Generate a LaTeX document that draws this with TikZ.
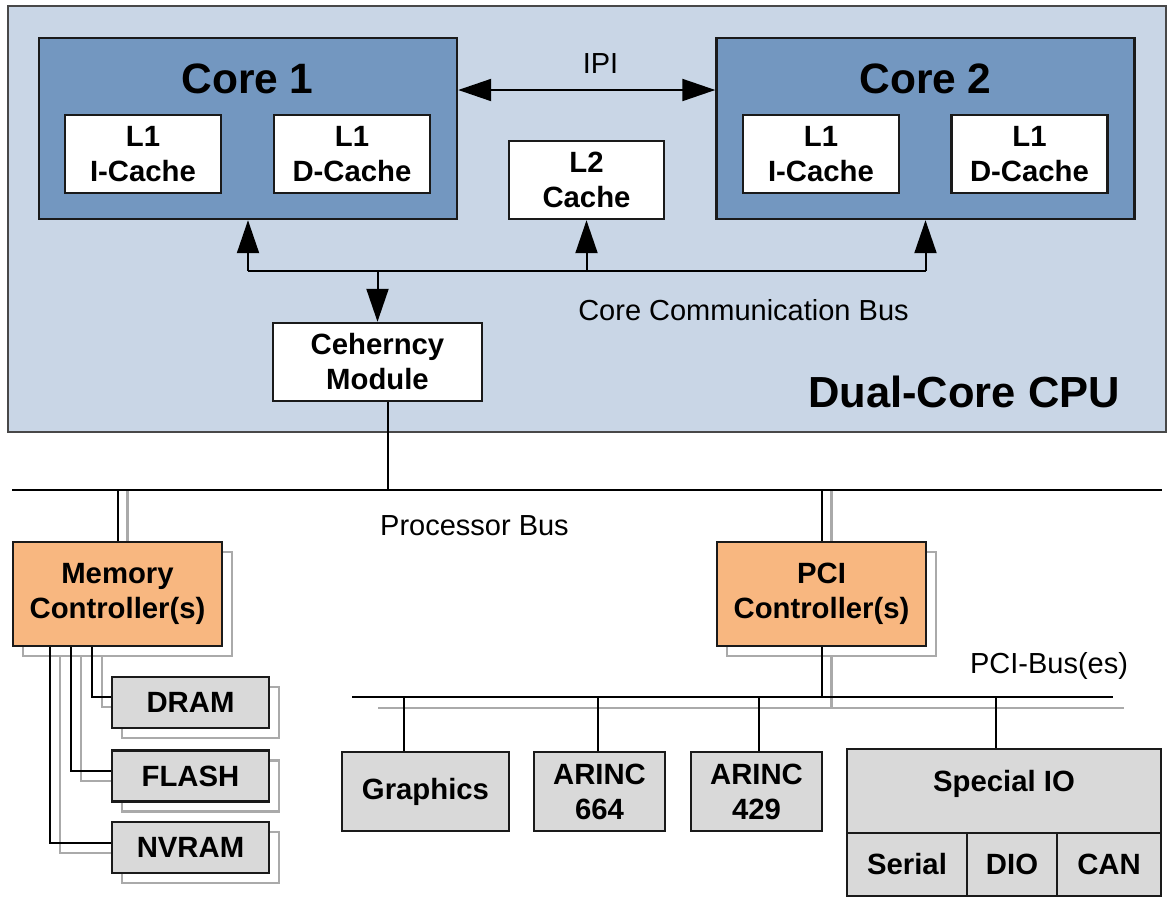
\documentclass[tikz,border=0pt]{standalone}
\usepackage{fontspec}
\setmainfont{Liberation Sans}
\usetikzlibrary{arrows.meta,shadows,backgrounds}
\definecolor{cpufill}{RGB}{201,214,230}
\definecolor{corefill}{RGB}{115,151,192}
\definecolor{ctrlfill}{RGB}{248,183,128}
\definecolor{devfill}{RGB}{217,217,217}
\definecolor{shgray}{RGB}{170,170,170}
\definecolor{edge}{RGB}{26,26,26}
\begin{document}
\begin{tikzpicture}[x=1pt,y=-1pt,
  box/.style={draw=edge, line width=2.4pt, inner sep=0pt, align=center,
    font=\bfseries\fontsize{29.3}{35}\selectfont},
  cpubox/.style={box, draw=edge!80, line width=2pt, fill=cpufill},
  corebox/.style={box, fill=corefill, minimum width=418pt, minimum height=181pt},
  cache/.style={box, fill=white, minimum width=156pt, minimum height=78pt},
  shadowed/.style={general shadow={shadow xshift=10pt, shadow yshift=-10pt, draw=shgray, line width=2.4pt}},
  ctrl/.style={box, fill=ctrlfill, minimum width=209pt, minimum height=104pt, shadowed},
  mem/.style={box, fill=devfill, minimum width=157pt, minimum height=51pt, shadowed},
  dev/.style={box, fill=devfill, minimum height=79pt},
  lbl/.style={inner sep=0pt, font=\fontsize{29}{34}\selectfont, text height=20.5pt, text depth=0pt},
  title/.style={inner sep=0pt, font=\bfseries\fontsize{42.5}{50}\selectfont, text height=30pt, text depth=0pt},
  link/.style={draw=black, line width=2pt},
  shline/.style={draw=shgray, line width=2.4pt},
  arr/.style={link, -{Triangle[length=33pt,width=22pt]}},
  darr/.style={link, {Triangle[length=33pt,width=22pt]}-{Triangle[length=33pt,width=22pt]}}
]
\useasboundingbox (0,0) rectangle (1176,906);

% CPU
\node[cpubox, minimum width=1158pt, minimum height=426pt] (cpu) at (587,219) {};
\node[corebox] (core1) at (248,128.5) {};
\node[corebox] (core2) at (925.5,128.5) {};
\node[title] (core1t) at (247.5,78) {Core 1};
\node[title] (core2t) at (925.5,78) {Core 2};
\node[cache] (l1i1) at (143,154) {L1\\I-Cache};
\node[cache] (l1d1) at (352,154) {L1\\D-Cache};
\node[cache] (l1i2) at (821,154) {L1\\I-Cache};
\node[cache] (l1d2) at (1029.5,154) {L1\\D-Cache};
\node[cache, minimum width=155pt] (l2) at (586.5,180) {L2\\Cache};
\node[cache, minimum width=209pt] (coh) at (377.5,362) {Ceherncy\\Module};
\node[lbl] (ipit) at (600.5,63) {IPI};
\node[lbl] (ccbt) at (743.5,310) {Core Communication Bus};
\node[title, font=\bfseries\fontsize{43.5}{50}\selectfont, text height=31pt] (cput) at (964,392) {Dual-Core CPU};

\coordinate (ccb) at (0,271);
\draw[darr] ([yshift=38.5pt]core1.east) -- ([yshift=38.5pt]core2.west);
\draw[link] (core1.south |- ccb) -- (core2.south |- ccb);
\draw[arr] (core1.south |- ccb) -- (core1.south);
\draw[arr] (l2.south |- ccb) -- (l2.south);
\draw[arr] (core2.south |- ccb) -- (core2.south);
\draw[arr] (coh.north |- ccb) -- (coh.north);

% processor bus
\coordinate (pbL) at (12,490);
\coordinate (pbR) at (1162,490);
\coordinate (cd) at ([xshift=10.5pt]coh.south);
\draw[link] (cd) -- (cd |- pbL);
\draw[link] (pbL) -- (pbR);
\node[lbl] (pbt) at (474.5,525) {Processor Bus};

% controllers
\node[ctrl] (mc) at (117.5,594) {Memory\\Controller(s)};
\node[ctrl] (pci) at (821.5,594) {PCI\\Controller(s)};
\node[mem] (dram) at (190.5,702.5) {DRAM};
\node[mem] (flash) at (190.5,776) {FLASH};
\node[mem] (nvram) at (190.5,847.5) {NVRAM};

\draw[link] (mc.north |- pbL) -- (mc.north);
\draw[link] (pci.north |- pbL) -- (pci.north);

\coordinate (m1) at ([xshift=-25.5pt]mc.south);
\coordinate (m2) at ([xshift=-46.5pt]mc.south);
\coordinate (m3) at ([xshift=-67.5pt]mc.south);
\draw[link] (m1) |- ([yshift=5.5pt]dram.west);
\draw[link] (m2) |- ([yshift=5pt]flash.west);
\draw[link] (m3) |- ([yshift=4.5pt]nvram.west);

% PCI bus
\coordinate (pciL) at (352,697);
\coordinate (pciR) at (1113,697);
\coordinate (pcigL) at (378,708);
\coordinate (pcigR) at (1124,708);
\draw[link] (pci.south) -- (pci.south |- pciL);
\draw[link] (pciL) -- (pciR);
\node[lbl] (pcibt) at (1049,663) {PCI-Bus(es)};

% devices
\node[dev, minimum width=167pt] (gfx) at (425.5,791.5) {Graphics};
\node[dev, minimum width=131pt] (a664) at (599.5,791.5) {ARINC\\664};
\node[dev, minimum width=131pt] (a429) at (756.5,791.5) {ARINC\\429};
\node[dev, minimum width=314pt, minimum height=84pt, text height=20.5pt, text depth=20pt] (spio) at (1004,791) {Special IO};
\node[dev, minimum width=120pt, minimum height=63pt] (serial) at (907,864.5) {Serial};
\node[dev, minimum width=90pt, minimum height=63pt] (dio) at (1012,864.5) {DIO};
\node[dev, minimum width=104pt, minimum height=63pt] (can) at (1109,864.5) {CAN};

\coordinate (d1) at ([xshift=-21.5pt]gfx.north);
\coordinate (d2) at ([xshift=-1.5pt]a664.north);
\coordinate (d3) at ([xshift=2.5pt]a429.north);
\coordinate (d4) at ([xshift=-8pt]spio.north);
\draw[link] (d1 |- pciL) -- (d1);
\draw[link] (d2 |- pciL) -- (d2);
\draw[link] (d3 |- pciL) -- (d3);
\draw[link] (d4 |- pciL) -- (d4);

% gray shadow copies of the links
\begin{scope}[on background layer]
  \coordinate (mg0) at ([xshift=10pt]mc.north);
  \draw[shline] (mg0 |- pbL) -- ([yshift=-10pt]mg0);
  \coordinate (pg0) at ([xshift=10pt]pci.north);
  \draw[shline] (pg0 |- pbL) -- ([yshift=-10pt]pg0);
  \coordinate (pg1) at ([shift={(10pt,-10pt)}]pci.south);
  \draw[shline] (pg1) -- (pg1 |- pcigL);
  \draw[shline] (pcigL) -- (pcigR);
  \draw[shline] ([shift={(10pt,-10pt)}]m1) |- ([shift={(10pt,-4.5pt)}]dram.west);
  \draw[shline] ([shift={(10pt,-10pt)}]m2) |- ([shift={(10pt,-5pt)}]flash.west);
  \draw[shline] ([shift={(10pt,-10pt)}]m3) |- ([shift={(10pt,-5.5pt)}]nvram.west);
\end{scope}
\end{tikzpicture}
\end{document}
